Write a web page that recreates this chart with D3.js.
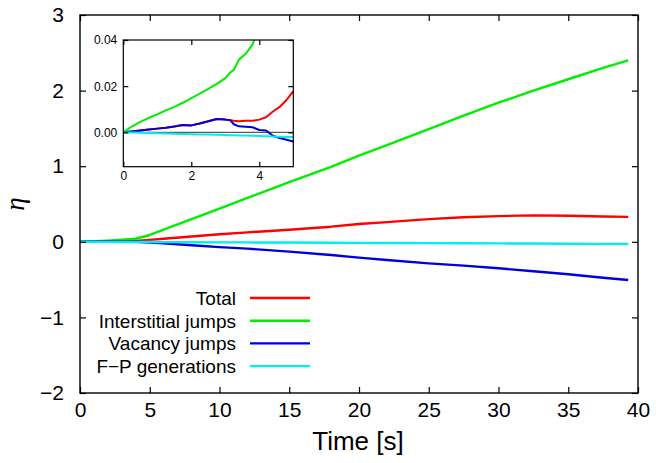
<!DOCTYPE html>
<html><head><meta charset="utf-8">
<script src="https://cdn.jsdelivr.net/npm/d3@7"></script>
<style>
html,body{margin:0;padding:0;background:#fff;}
svg{display:block;font-family:"Liberation Sans",Arial,Helvetica,sans-serif;}
</style></head>
<body>
<svg id="chart" width="656" height="463"></svg>
<script>
// ---------- data (main plot) ----------
const timeMain = [0, 2, 4, 5, 6, 8, 10, 12, 15, 18, 20, 22, 25, 27.5, 30, 32.5, 35, 37.5, 39.3];
const totalMain = [0, 0.004, 0.012, 0.025, 0.04, 0.07, 0.1, 0.125, 0.16, 0.2, 0.235, 0.26, 0.3, 0.325, 0.34, 0.35, 0.345, 0.335, 0.33];
const interstitialMain = [0, 0.016, 0.04, 0.09, 0.16, 0.3, 0.44, 0.58, 0.79, 0.99, 1.14, 1.28, 1.49, 1.67, 1.84, 2.0, 2.15, 2.30, 2.40];
const vacancyMain = [0, 0.003, 0.001, -0.01, -0.02, -0.045, -0.07, -0.09, -0.13, -0.175, -0.21, -0.24, -0.285, -0.315, -0.35, -0.39, -0.43, -0.475, -0.505];
const fpMain = [0, -0.001, -0.0025, -0.003, -0.004, -0.006, -0.007, -0.008, -0.01, -0.012, -0.014, -0.015, -0.017, -0.019, -0.021, -0.023, -0.025, -0.027, -0.028];

// ---------- data (inset) ----------
const timeInset = [0, 0.25, 0.5, 0.75, 1, 1.25, 1.5, 1.75, 2, 2.25, 2.5, 2.75, 3, 3.15, 3.25, 3.4, 3.6, 3.8, 4, 4.2, 4.4, 4.6, 4.8, 5];
const totalInset = [0, 0.0004, 0.0008, 0.0012, 0.0016, 0.002, 0.0025, 0.0032, 0.003, 0.0038, 0.0048, 0.0058, 0.0055, 0.0052, 0.005, 0.0048, 0.005, 0.005, 0.0055, 0.0065, 0.009, 0.011, 0.014, 0.0178];
const interstitialInset = [0, 0.0025, 0.0045, 0.0063, 0.0078, 0.0095, 0.011, 0.0128, 0.0148, 0.0168, 0.0188, 0.021, 0.0235, 0.026, 0.027, 0.0315, 0.034, 0.038, 0.046, 0.055, 0.064, 0.073, 0.082, 0.09];
const vacancyInset = [0, 0.0004, 0.0008, 0.0012, 0.0016, 0.002, 0.0025, 0.0032, 0.003, 0.0038, 0.0048, 0.0058, 0.0055, 0.0052, 0.0035, 0.0026, 0.0024, 0.0022, 0.001, 0.0008, -0.0015, -0.0025, -0.0032, -0.004];
const fpInset = [0, -0.0001, -0.0002, -0.0003, -0.0004, -0.0005, -0.0006, -0.0007, -0.0008, -0.0009, -0.001, -0.0011, -0.0012, -0.0013, -0.0013, -0.0014, -0.0014, -0.0015, -0.0016, -0.0017, -0.0018, -0.0019, -0.002, -0.002];

// ---------- ticks / labels ----------
const xTicksMain = [0, 5, 10, 15, 20, 25, 30, 35, 40];
const yTicksMain = [-2, -1, 0, 1, 2, 3];
const xTicksInset = [0, 2, 4];
const yTicksInset = [0, 0.02, 0.04];
const seriesNames = ["Total", "Interstitial jumps", "Vacancy jumps", "F\u2212P generations"];
const seriesColors = ["#ff0000", "#00ee00", "#0000dd", "#00eeee"];

const svg = d3.select("#chart");
const minus = s => String(s).replace("-", "\u2212");

// ---------- main plot ----------
const x = d3.scaleLinear().domain([0, 40]).range([80, 638]);
const y = d3.scaleLinear().domain([-2, 3]).range([393, 15]);

const mainSeries = [totalMain, interstitialMain, vacancyMain, fpMain];
const lineMain = d3.line().x(d => d[0]).y(d => d[1]);
mainSeries.forEach((vals, i) => {
  svg.append("path")
    .attr("d", lineMain(timeMain.map((t, j) => [x(t), y(vals[j])])))
    .attr("fill", "none").attr("stroke", seriesColors[i]).attr("stroke-width", 2.4)
    .attr("stroke-linejoin", "round");
});

function styleAxis(g, fs) {
  g.select(".domain").remove();
  g.selectAll(".tick line").attr("stroke", "#000").attr("stroke-width", 1.2);
  g.selectAll(".tick text").attr("font-size", fs).attr("fill", "#000")
    .attr("font-family", "'Liberation Sans',Arial,sans-serif");
}

const gx = svg.append("g").attr("transform", "translate(0,393)")
  .call(d3.axisBottom(x).tickValues(xTicksMain).tickSizeInner(-6).tickSizeOuter(0).tickPadding(9).tickFormat(d => d));
styleAxis(gx, 21);
const gxt = svg.append("g").attr("transform", "translate(0,15)")
  .call(d3.axisTop(x).tickValues(xTicksMain).tickSizeInner(-6).tickSizeOuter(0).tickFormat(""));
styleAxis(gxt, 21);
const gy = svg.append("g").attr("transform", "translate(80,0)")
  .call(d3.axisLeft(y).tickValues(yTicksMain).tickSizeInner(-6).tickSizeOuter(0).tickPadding(16).tickFormat(d => minus(d)));
styleAxis(gy, 21);
const gyr = svg.append("g").attr("transform", "translate(638,0)")
  .call(d3.axisRight(y).tickValues(yTicksMain).tickSizeInner(-6).tickSizeOuter(0).tickFormat(""));
styleAxis(gyr, 21);

svg.append("rect").attr("x", 80).attr("y", 15).attr("width", 558).attr("height", 378)
  .attr("fill", "none").attr("stroke", "#000").attr("stroke-width", 1.4);

// axis titles
svg.append("text").attr("x", 358).attr("y", 450).attr("text-anchor", "middle")
  .attr("font-size", 26).text("Time [s]");
svg.append("text").attr("transform", "translate(24,204) rotate(-90)").attr("text-anchor", "middle")
  .attr("font-size", 27).attr("font-style", "italic").attr("font-family", "'Liberation Serif','Times New Roman',serif")
  .text("\u03b7");

// legend
seriesNames.forEach((name, i) => {
  const ly = 298 + i * 22.7;
  svg.append("text").attr("x", 236).attr("y", ly + 6.8).attr("text-anchor", "end")
    .attr("font-size", 19).text(name);
  svg.append("line").attr("x1", 250).attr("x2", 310).attr("y1", ly).attr("y2", ly)
    .attr("stroke", seriesColors[i]).attr("stroke-width", 2.4);
});

// ---------- inset ----------
const xi = d3.scaleLinear().domain([0, 5]).range([123.3, 293.3]);
const yi = d3.scaleLinear().domain([-0.0149, 0.04]).range([166.7, 40]);

svg.append("rect").attr("x", 123.3).attr("y", 40).attr("width", 170).attr("height", 126.7).attr("fill", "#fff");
svg.append("clipPath").attr("id", "insetClip").append("rect")
  .attr("x", 123.3).attr("y", 40).attr("width", 170).attr("height", 126.7);

const gi = svg.append("g").attr("clip-path", "url(#insetClip)");
gi.append("line").attr("x1", xi(0)).attr("x2", xi(5)).attr("y1", yi(0)).attr("y2", yi(0))
  .attr("stroke", "#333").attr("stroke-width", 1);
const insetSeries = [totalInset, interstitialInset, vacancyInset, fpInset];
insetSeries.forEach((vals, i) => {
  gi.append("path")
    .attr("d", lineMain(timeInset.map((t, j) => [xi(t), yi(vals[j])])))
    .attr("fill", "none").attr("stroke", seriesColors[i]).attr("stroke-width", 2)
    .attr("stroke-linejoin", "round");
});

const gix = svg.append("g").attr("transform", "translate(0,166.7)")
  .call(d3.axisBottom(xi).tickValues(xTicksInset).tickSizeInner(-5).tickSizeOuter(0).tickPadding(5).tickFormat(d => d));
styleAxis(gix, 12);
const gixt = svg.append("g").attr("transform", "translate(0,40)")
  .call(d3.axisTop(xi).tickValues(xTicksInset).tickSizeInner(-5).tickSizeOuter(0).tickFormat(""));
styleAxis(gixt, 12);
const giy = svg.append("g").attr("transform", "translate(123.3,0)")
  .call(d3.axisLeft(yi).tickValues(yTicksInset).tickSizeInner(-5).tickSizeOuter(0).tickPadding(6).tickFormat(d3.format(".2f")));
styleAxis(giy, 12);
const giyr = svg.append("g").attr("transform", "translate(293.3,0)")
  .call(d3.axisRight(yi).tickValues(yTicksInset).tickSizeInner(-5).tickSizeOuter(0).tickFormat(""));
styleAxis(giyr, 12);
svg.append("rect").attr("x", 123.3).attr("y", 40).attr("width", 170).attr("height", 126.7)
  .attr("fill", "none").attr("stroke", "#000").attr("stroke-width", 1.2);
</script>
</body></html>
